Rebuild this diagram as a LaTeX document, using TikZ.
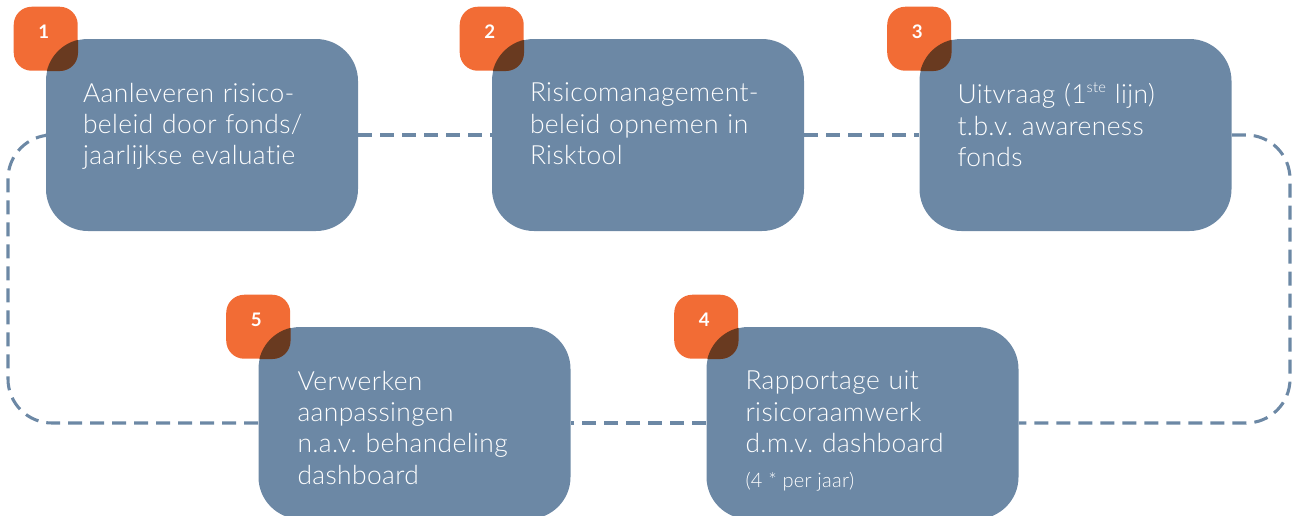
\documentclass[tikz,border=0pt]{standalone}
\usepackage{fontspec}
\setmainfont{Lato Light}[LetterSpace=1.5,Ligatures=NoCommon]
\newfontfamily\numfont{Lato}
\usetikzlibrary{calc}
\definecolor{boxblue}{RGB}{108,136,165}
\definecolor{badgeorange}{RGB}{242,108,53}
\definecolor{overlapbrown}{RGB}{105,58,32}
\newcommand{\smalltxt}[1]{{\fontsize{15}{16}\selectfont\spaceskip=0pt #1}}
\newcommand{\suptxt}[1]{\raisebox{0.42em}{\fontsize{11}{12}\selectfont #1}}
\tikzset{
  stepbox/.style={fill=boxblue,rounded corners=31.5pt,minimum width=234pt,minimum height=144pt,inner sep=0pt},
  badge/.style={fill=badgeorange,rounded corners=13.5pt,minimum size=48pt,inner sep=0pt},
  num/.style={text=white,font=\numfont\bfseries\fontsize{14}{16}\selectfont,inner sep=0pt},
  txt/.style={text=white,font=\fontsize{19.8}{23.5}\selectfont\frenchspacing,anchor=north west,inner sep=0pt,text width=225pt,align=left},
  loop/.style={draw=boxblue,line width=2.3pt,dash pattern=on 10.5pt off 6pt,rounded corners=33pt}
}
\begin{document}
\begin{tikzpicture}[x=0.75pt,y=-0.75pt]
			\useasboundingbox(0,0)rectangle(1292,515);
			% boxes
			\node[stepbox](b1)at(202,135){};
			\node[stepbox](b2)at(648,135){};
			\node[stepbox](b3)at(1075.5,135){};
			\node[stepbox](b5)at(414.5,423){};
			\node[stepbox](b4)at(862.5,423){};
			\coordinate(le)at(8,0);
			\coordinate(re)at(1290,0);
			% dashed cycle
			\draw[loop](b1.east)--(b2.west);
			\draw[loop](b2.east)--(b3.west);
			\draw[loop](b3.east)--(b3.east-|re)--(re|-b4.east)--(b4.east);
			\draw[loop](b4.west)--(b5.east);
			\draw[loop](b5.west)--(b5.west-|le)--(le|-b1.west)--(b1.west);
			% badges
			\foreach \b/\n in {b1/1,b2/2,b3/3,b4/4,b5/5}{
				\node[badge](n\n)at(\b.north west){};
				\begin{scope}
					\clip[rounded corners=31.5pt](\b.south west)rectangle(\b.north east);
					\fill[overlapbrown,rounded corners=13.5pt](n\n.south west)rectangle(n\n.north east);
				\end{scope}
				\node[num](t\n)at([xshift=-1.5pt,yshift=5pt]n\n.center){\n};
			}
			% texts
			\node[txt](x1)at([shift={(37,44)}]b1.north west){Aanleveren risico-\\beleid door fonds/\\jaarlijkse evaluatie};
			\node[txt](x2)at([shift={(38,44)}]b2.north west){Risicomanagement-\\beleid opnemen in\\Risktool};
			\node[txt](x3)at([shift={(38,44)}]b3.north west){Uitvraag (1\suptxt{ste} lijn)\\t.b.v. awareness\\fonds};
			\node[txt](x4)at([shift={(39,44)}]b4.north west){Rapportage uit\\risicoraamwerk\\d.m.v. dashboard\\[3pt]\smalltxt{(4 * per jaar)}};
			\node[txt](x5)at([shift={(39,44)}]b5.north west){Verwerken\\aanpassingen\\n.a.v. behandeling\\dashboard};
		\end{tikzpicture}
\end{document}
